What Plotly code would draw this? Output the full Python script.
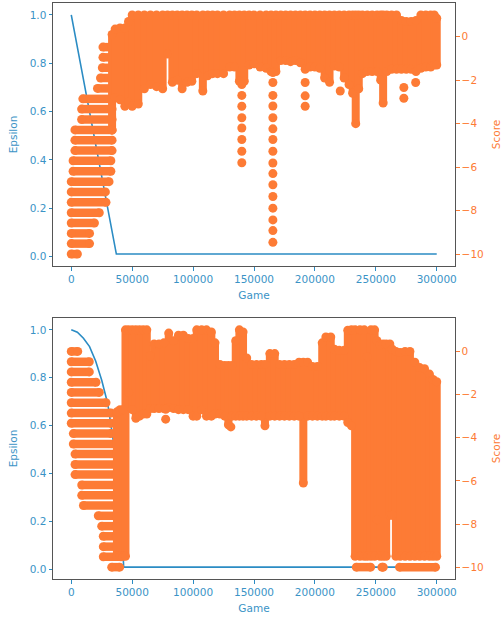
import plotly.graph_objects as go

# ---------------- top run ----------------
top_eps_game = [0, 37000, 300000]
top_eps = [1.0, 0.01, 0.01]

top_band_level = [-10.0, -9.52, -9.05, -8.57, -8.1, -7.62, -7.14, -6.67, -6.19, -5.71, -5.24,
                  -4.76, -4.29, -3.81, -3.33, -2.86, -2.38, -1.9, -1.43, -0.95, -0.48]
top_band_start = [0, 0, 0, 0, 0, 0, 0, 0, 1500, 1500, 3000,
                  3000, 3000, 8500, 8500, 9500, 21500, 24000, 25500, 26000, 26000]
top_band_end = [5000, 15000, 15000, 19000, 23000, 28500, 28000, 31000, 32500, 32500, 33500,
                33500, 33500, 33500, 33500, 33500, 33500, 33500, 33500, 33500, 33500]

top_col_game = [33500, 36000, 40000, 44000, 47000, 50000, 55000, 60000, 65000, 70000, 75000,
                79000, 83000, 87000, 91000, 95000, 99000, 103000, 108000, 112000, 116000,
                120000, 125000, 130000, 134000, 138000, 142000, 146000, 150000, 155000,
                160000, 164000, 168000, 172000, 176000, 180000, 184000, 188000, 192000,
                196000, 200000, 204000, 208000, 212000, 216000, 220000, 224000, 228000,
                231000, 233500, 236000, 239000, 243000, 247000, 251000, 254000, 256000,
                259000, 263000, 267000, 271000, 275000, 279000, 283000, 287000, 291000,
                295000, 298000, 300000]
top_col_lo = [-4.3, -2.8, -2.9, -3.2, -3.0, -3.2, -3.1, -2.4, -2.2, -2.3, -2.4,
              -0.8, -2.1, -2.0, -2.4, -2.1, -2.05, -1.7, -2.5, -1.8, -1.7,
              -1.7, -1.7, -1.4, -1.4, -2.05, -2.05, -1.3, -1.25, -1.4,
              -1.45, -1.6, -1.6, -1.1, -1.1, -1.15, -1.1, -1.2, -1.5,
              -1.4, -1.4, -1.45, -1.9, -2.1, -1.35, -1.4, -1.9, -2.2,
              -2.6, -4.0, -2.4, -1.7, -1.6, -1.6, -1.6, -2.0, -3.05,
              -1.6, -1.5, -1.5, -1.5, -1.5, -1.5, -1.6, -1.45, -1.4,
              -1.4, -1.3, -1.3]
top_col_hi = [0.1, 0.35, 0.4, 0.4, 0.7, 1.0, 1.0, 1.0, 1.0, 1.0, 1.0,
              1.0, 1.0, 1.0, 1.0, 1.0, 1.0, 1.0, 1.0, 1.0, 1.0,
              1.0, 1.0, 1.0, 1.0, 1.0, 1.0, 1.0, 1.0, 1.0,
              1.0, 1.0, 1.0, 1.0, 1.0, 1.0, 1.0, 1.0, 1.0,
              1.0, 1.0, 1.0, 1.0, 1.0, 1.0, 1.0, 1.0, 1.0,
              1.0, 1.0, 1.0, 1.0, 1.0, 1.0, 1.0, 1.0, 1.0,
              1.0, 1.0, 1.0, 0.75, 0.7, 0.7, 0.75, 1.0, 1.0,
              1.0, 1.0, 0.85]

top_dot_game = [140000] * 8 + [165500] * 16 + [192000] * 3 + [220800, 273000, 273000, 282700]
top_dot_score = [-2.2, -2.7, -3.2, -3.73, -4.2, -4.73, -5.27, -5.8,
                 -1.65, -2.11, -2.7, -3.19, -3.73, -4.24, -4.73, -5.27, -5.81, -6.3, -6.81,
                 -7.35, -7.89, -8.43, -8.92, -9.46,
                 -2.11, -2.72, -3.2,
                 -2.5, -2.34, -2.83, -2.11]

# ---------------- bottom run ----------------
bot_eps_game = [0, 5000, 10000, 15000, 20000, 25000, 30000, 35000, 38000, 40000, 42000, 43000, 300000]
bot_eps = [1.0, 0.99, 0.965, 0.93, 0.87, 0.79, 0.69, 0.52, 0.39, 0.28, 0.13, 0.01, 0.01]

bot_band_level = [0.0, -0.48, -0.95, -1.43, -1.9, -2.38, -2.86, -3.33, -3.81, -4.29, -4.76,
                  -5.24, -5.71, -6.19, -6.67, -7.14, -7.62, -8.1, -8.57, -9.05, -9.52, -10.0,
                  -10.0, -10.0, -10.0]
bot_band_start = [0, 0, 0, 0, 0, 0, 0, 0, 1700, 1700, 3100,
                  3100, 3100, 8600, 8600, 10000, 22200, 25000, 26300, 26300, 26300, 33200,
                  234000, 255000, 269500]
bot_band_end = [5300, 14800, 14800, 20300, 23000, 28500, 32600, 32600, 32600, 36700, 36700,
                36700, 36700, 36700, 36700, 36700, 36700, 36700, 36700, 36700, 40800, 39700,
                245700, 256100, 299000]

bot_col_game = [37500, 40000, 42500, 44500, 47000, 50000, 53000, 56000, 59000, 62000, 65000,
                68000, 72000, 76000, 80000, 84000, 88000, 92000, 96000, 100000, 103000,
                107000, 111000, 115000, 118000, 122000, 126000, 129000, 132000, 135000,
                138000, 141000, 144000, 148000, 152000, 156000, 159000, 163000, 167000,
                171000, 175000, 179000, 183000, 187000, 190500, 194000, 198000, 202000,
                206000, 209000, 213000, 216000, 220000, 224000, 227000, 230000, 233000,
                237000, 240500, 243000, 246000, 249000, 251000, 253500, 256000, 258500,
                261500, 263500, 266500, 270000, 274000, 278000, 282000, 286000, 290000,
                294000, 297000, 300000]
bot_col_lo = [-9.5, -9.5, -9.5, -9.5, -1.9, -2.7, -3.1, -3.0, -2.9, -2.9, -2.65,
              -2.65, -2.65, -2.65, -2.6, -2.65, -2.7, -2.7, -2.7, -3.0, -3.0,
              -2.7, -3.0, -3.0, -2.9, -2.9, -3.0, -3.4, -3.0, -3.0,
              -3.0, -3.0, -3.0, -3.0, -3.0, -3.0, -3.45, -3.0, -3.0,
              -3.0, -3.0, -3.0, -3.0, -3.0, -6.1, -3.0, -3.0, -3.0,
              -3.0, -3.0, -3.0, -3.0, -3.0, -3.0, -3.3, -3.45, -9.5,
              -9.5, -9.5, -9.5, -9.5, -9.5, -7.8, -9.5, -9.5, -9.5,
              -7.6, -7.6, -9.5, -9.5, -9.5, -9.5, -9.5, -9.5, -9.5,
              -9.5, -9.5, -9.5]
bot_col_hi = [-2.8, -2.7, -2.7, 1.0, 1.0, 1.0, 1.0, 1.0, 1.0, 1.0, -0.2,
              0.35, 0.35, 0.4, 0.85, 0.5, 0.75, 0.75, 0.6, 0.6, 1.0,
              1.0, 1.0, 0.9, 0.4, -0.6, -0.65, -0.65, -0.65, 0.5,
              1.0, 0.9, -0.3, -0.6, -0.6, -0.6, -0.6, -0.1, -0.1,
              -0.6, -0.6, -0.6, -0.6, -0.5, -0.5, -0.5, -0.7, -0.7,
              0.4, 0.67, 0.67, 0.1, 0.05, 0.05, 0.98, 1.0, 1.0,
              1.0, 1.0, -0.25, 1.0, 1.0, 0.5, 0.3, 0.35, 0.35,
              0.35, 0.1, 0.0, -0.05, 0.0, 0.0, -0.5, -0.75, -0.8,
              -1.05, -1.3, -1.4]

bot_dot_game = [77500, 77500, 131000]
bot_dot_score = [-2.68, -3.14, -3.5]

# ---------------- styling ----------------
BLUE = "#2b8cc4"
BLUE_TXT = "#3a93c6"
ORANGE = "#fd7b35"
FONT = "DejaVu Sans"
W, H = 503, 618


def runs(levels, starts, ends):
    xs, ys = [], []
    for lv, s, e in zip(levels, starts, ends):
        xs += [s, e, None]
        ys += [lv, lv, None]
    return xs, ys


def columns(games, lo, hi):
    xs, ys = [], []
    for g, a, b in zip(games, lo, hi):
        xs += [g, g, None]
        ys += [a, b, None]
    return xs, ys


fig = go.Figure()


def add_panel(xa, ya_eps, ya_score, eps_g, eps_v, bl, bs, be, cg, clo, chi, dg, ds):
    fig.add_trace(go.Scatter(x=eps_g, y=eps_v, mode="lines",
                             line=dict(color=BLUE, width=1.6),
                             xaxis=xa, yaxis=ya_eps, showlegend=False, hoverinfo="skip"))
    bx, by = runs(bl, bs, be)
    fig.add_trace(go.Scatter(x=bx, y=by, mode="lines+markers",
                             line=dict(color=ORANGE, width=8.5),
                             marker=dict(color=ORANGE, size=9),
                             xaxis=xa, yaxis=ya_score, showlegend=False, hoverinfo="skip"))
    cx, cy = columns(cg, clo, chi)
    fig.add_trace(go.Scatter(x=cx, y=cy, mode="lines+markers",
                             line=dict(color=ORANGE, width=8),
                             marker=dict(color=ORANGE, size=9),
                             xaxis=xa, yaxis=ya_score, showlegend=False, hoverinfo="skip"))
    fig.add_trace(go.Scatter(x=dg, y=ds, mode="markers",
                             marker=dict(color=ORANGE, size=9),
                             xaxis=xa, yaxis=ya_score, showlegend=False, hoverinfo="skip"))


add_panel("x", "y", "y2", top_eps_game, top_eps, top_band_level, top_band_start, top_band_end,
          top_col_game, top_col_lo, top_col_hi, top_dot_game, top_dot_score)
add_panel("x2", "y3", "y4", bot_eps_game, bot_eps, bot_band_level, bot_band_start, bot_band_end,
          bot_col_game, bot_col_lo, bot_col_hi, bot_dot_game, bot_dot_score)

xdom = [53 / W, 455 / W]
top_dom = [1 - 266 / H, 1 - 3 / H]
bot_dom = [1 - 579 / H, 1 - 318 / H]

tickfont_b = dict(family=FONT, size=10.5, color=BLUE_TXT)
tickfont_o = dict(family=FONT, size=10.5, color=ORANGE)

xcommon = dict(range=[-15000, 315000], tickvals=[0, 50000, 100000, 150000, 200000, 250000, 300000],
               tickformat="d", ticks="outside", ticklen=3.5, tickcolor=BLUE, tickfont=tickfont_b,
               showgrid=False, zeroline=False, showline=True, linecolor="#555555", linewidth=1,
               mirror=True, automargin=False,
               title=dict(text="Game", font=dict(family=FONT, size=10.5, color=BLUE_TXT), standoff=7))
ycommon = dict(range=[-0.0395, 1.0495], tickvals=[0, 0.2, 0.4, 0.6, 0.8, 1.0], tickformat=".1f",
               ticks="outside", ticklen=3.5, tickcolor=BLUE, tickfont=tickfont_b,
               showgrid=False, zeroline=False, showline=True, linecolor="#555555", linewidth=1,
               mirror=True, automargin=False,
               title=dict(text="Epsilon", font=dict(family=FONT, size=10.5, color=BLUE_TXT), standoff=10))
y2common = dict(range=[-10.55, 1.55], tickvals=[-10, -8, -6, -4, -2, 0],
                ticks="outside", ticklen=3.5, tickcolor=ORANGE, tickfont=tickfont_o,
                showgrid=False, zeroline=False, showline=False, side="right", automargin=False,
                title=dict(text="Score", font=dict(family=FONT, size=10.5, color=ORANGE), standoff=9))

fig.update_layout(
    width=W, height=H,
    margin=dict(l=0, r=0, t=0, b=0),
    paper_bgcolor="white", plot_bgcolor="white",
    font=dict(family=FONT),
    hovermode=False,
    xaxis=dict(domain=xdom, anchor="y", **xcommon),
    yaxis=dict(domain=top_dom, anchor="x", **ycommon),
    yaxis2=dict(overlaying="y", anchor="x", **y2common),
    xaxis2=dict(domain=xdom, anchor="y3", **xcommon),
    yaxis3=dict(domain=bot_dom, anchor="x2", **ycommon),
    yaxis4=dict(overlaying="y3", anchor="x2", **y2common),
)

fig.write_html("out.html", config={"displayModeBar": False},
               post_script="document.body.style.margin='0px';")
